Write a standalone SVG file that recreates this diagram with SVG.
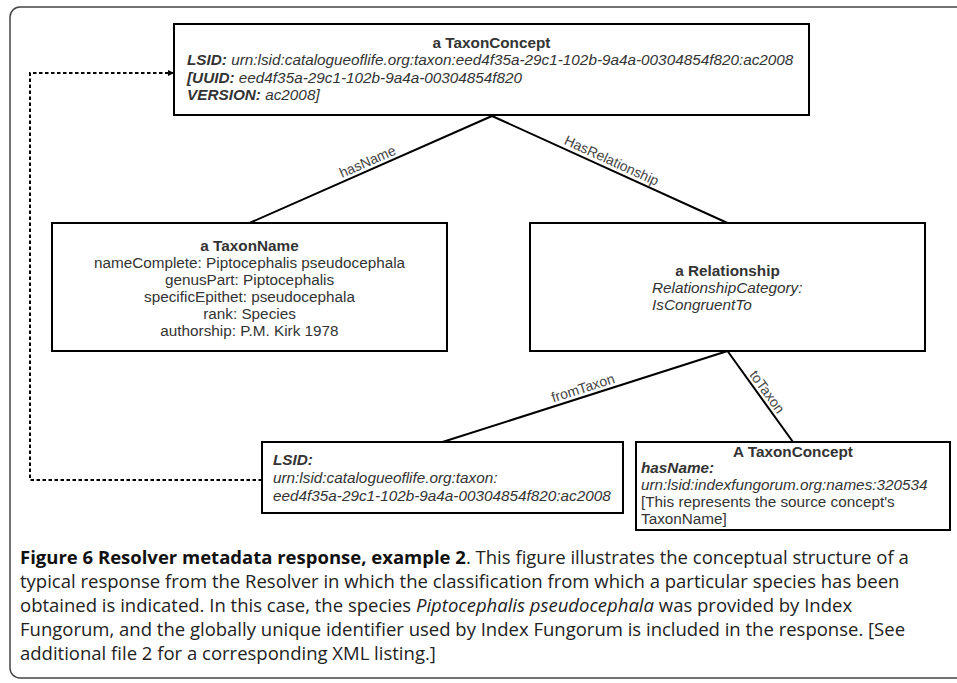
<svg xmlns="http://www.w3.org/2000/svg" width="957" height="683" viewBox="0 0 957 683">
<defs>
<style>
.box{fill:#fff;stroke:#000;stroke-width:2}
.t{font-family:"Liberation Sans",Arial,sans-serif;font-size:15.3px;fill:#333}
.b{font-weight:bold}
.i{font-style:italic}
.c{text-anchor:middle}
.edge{stroke:#000;stroke-width:2;fill:none}
.dot{stroke:#000;stroke-width:2;fill:none;stroke-dasharray:3.5 2.5}
.lbl{font-family:"Liberation Sans",Arial,sans-serif;font-size:14px;fill:#444;text-anchor:middle}
.cap{font-family:"Open Sans","Liberation Sans",sans-serif;font-size:18.5px;fill:#222}
</style>
<marker id="arr" viewBox="0 0 10 10" refX="10" refY="5" markerWidth="7" markerHeight="6" markerUnits="userSpaceOnUse" orient="auto">
<path d="M0,0 L10,5 L0,10 z" fill="#000"/>
</marker>
</defs>
<rect x="10" y="7" width="960" height="671" rx="10" fill="#fff" stroke="#444" stroke-width="1.5"/>

<g id="connectors">
<line class="edge" x1="492" y1="116" x2="249.5" y2="223"/>
<line class="edge" x1="492" y1="116" x2="727.5" y2="223"/>
<line class="edge" x1="727.5" y1="351" x2="442.5" y2="442"/>
<line class="edge" x1="727.5" y1="351" x2="793" y2="442"/>
<path class="dot" d="M262,480 H30 V73 H174" marker-end="url(#arr)"/>
<text class="lbl" transform="translate(371,169.6) rotate(-23.85)" x="0" y="-4">hasName</text>
<text class="lbl" transform="translate(608,168.6) rotate(24.48)" x="0" y="-4">HasRelationship</text>
<text class="lbl" transform="translate(585.7,396.3) rotate(-17.71)" x="0" y="-4">fromTaxon</text>
<text class="lbl" transform="translate(760,397) rotate(54.26)" x="0" y="-4">toTaxon</text>
</g>

<g id="taxonConcept">
<rect class="box" x="174" y="24" width="635" height="91"/>
<text class="t b c" x="491.5" y="48">a TaxonConcept</text>
<text class="t i" x="187" y="65.3"><tspan class="b">LSID:</tspan> urn:lsid:catalogueoflife.org:taxon:eed4f35a-29c1-102b-9a4a-00304854f820:ac2008</text>
<text class="t i" x="187" y="82.6"><tspan class="b">[UUID:</tspan> eed4f35a-29c1-102b-9a4a-00304854f820</text>
<text class="t i" x="187" y="99.9"><tspan class="b">VERSION:</tspan> ac2008]</text>
</g>

<g id="taxonName">
<rect class="box" x="52" y="223" width="395" height="128"/>
<text class="t b c" x="249.5" y="251">a TaxonName</text>
<text class="t c" x="249.5" y="268">nameComplete: Piptocephalis pseudocephala</text>
<text class="t c" x="249.5" y="285">genusPart: Piptocephalis</text>
<text class="t c" x="249.5" y="302">specificEpithet: pseudocephala</text>
<text class="t c" x="249.5" y="319">rank: Species</text>
<text class="t c" x="249.5" y="336">authorship: P.M. Kirk 1978</text>
</g>

<g id="relationship">
<rect class="box" x="530" y="223" width="395" height="128"/>
<text class="t b c" x="727.5" y="276">a Relationship</text>
<text class="t i" x="652" y="293">RelationshipCategory:</text>
<text class="t i" x="652" y="310">IsCongruentTo</text>
</g>

<g id="lsidNode">
<rect class="box" x="262" y="442" width="361" height="71"/>
<text class="t b i" x="273" y="465">LSID:</text>
<text class="t i" x="273" y="483">urn:lsid:catalogueoflife.org:taxon:</text>
<text class="t i" x="273" y="501">eed4f35a-29c1-102b-9a4a-00304854f820:ac2008</text>
</g>

<g id="sourceConcept">
<rect class="box" x="636" y="442" width="314" height="88"/>
<text class="t b c" x="793" y="457">A TaxonConcept</text>
<text class="t b i" x="641" y="473">hasName:</text>
<text class="t i" x="641" y="490">urn:lsid:indexfungorum.org:names:320534</text>
<text class="t" x="641" y="507">[This represents the source concept's</text>
<text class="t" x="641" y="524">TaxonName]</text>
</g>

<g id="caption">
<text class="cap" x="20" y="564"><tspan font-weight="bold" fill="#111">Figure 6 Resolver metadata response, example 2</tspan>. This figure illustrates the conceptual structure of a</text>
<text class="cap" x="20" y="588">typical response from the Resolver in which the classification from which a particular species has been</text>
<text class="cap" x="20" y="612">obtained is indicated. In this case, the species <tspan font-style="italic">Piptocephalis pseudocephala</tspan> was provided by Index</text>
<text class="cap" x="20" y="636">Fungorum, and the globally unique identifier used by Index Fungorum is included in the response. [See</text>
<text class="cap" x="20" y="660">additional file 2 for a corresponding XML listing.]</text>
</g>
</svg>
